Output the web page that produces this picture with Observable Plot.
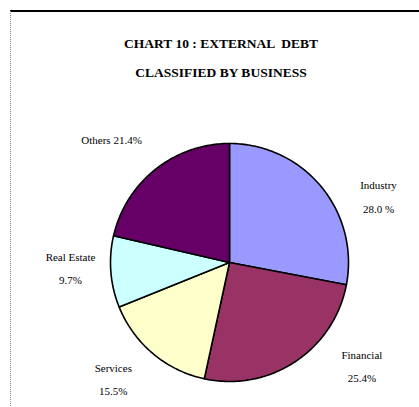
<!DOCTYPE html>
<html><head><meta charset="utf-8">
<script src="https://cdn.jsdelivr.net/npm/d3@7"></script>
<script src="https://cdn.jsdelivr.net/npm/@observablehq/plot@0.6"></script>
<style>
html,body{margin:0;padding:0;background:#fff;}
#wrap{position:relative;width:419px;height:407px;overflow:hidden;}
#chart svg{display:block;}
#border{position:absolute;left:10px;top:10px;right:-5px;bottom:-5px;border-top:2px solid #000;border-left:1px dotted #888;pointer-events:none;}
</style></head><body><div id="wrap"><div id="chart"></div><div id="border"></div></div>
<script>
// ---- data ----
const categories = ["Industry", "Financial", "Services", "Real Estate", "Others"];
const shares = [28.0, 25.4, 15.5, 9.7, 21.4];
const shareLabels = ["28.0 %", "25.4%", "15.5%", "9.7%", "21.4%"];
const sliceColors = ["#9999FF", "#993366", "#FFFFCC", "#CCFFFF", "#660066"];
const titleLines = ["CHART 10 : EXTERNAL  DEBT", "CLASSIFIED BY BUSINESS"];

// ---- layout ----
const W = 419, H = 407, cx = 229, cy = 262, R = 119;
const labelNudgeDeg = [16, -18.2, 4.5, 2.2, -5.5];
const labelRadius = [1.366, 1.418, 1.39, 1.337, 1.426];
const singleLine = [false, false, false, false, true];
const font = "'Liberation Serif','Times New Roman',serif";

const arcs = d3.pie().sort(null).value(d => d)(shares);
const slicePts = [];
arcs.forEach((a, i) => {
  slicePts.push({name: categories[i], x: 0, y: 0});
  const n = Math.max(2, Math.ceil((a.endAngle - a.startAngle) / (Math.PI / 180)));
  for (let k = 0; k <= n; k++) {
    const t = a.startAngle + (a.endAngle - a.startAngle) * k / n;
    slicePts.push({name: categories[i], x: Math.sin(t), y: Math.cos(t)});
  }
});
const labels = arcs.map((a, i) => {
  const mid = (a.startAngle + a.endAngle) / 2 + labelNudgeDeg[i] * Math.PI / 180;
  return {
    x: Math.sin(mid) * labelRadius[i],
    y: Math.cos(mid) * labelRadius[i],
    text: singleLine[i] ? `${categories[i]} ${shareLabels[i]}` : `${categories[i]}\n${shareLabels[i]}`
  };
});

const chart = Plot.plot({
  width: W, height: H,
  margin: 0,
  x: {domain: [-cx / R, (W - cx) / R], range: [0, W], axis: null},
  y: {domain: [-(H - cy) / R, cy / R], range: [H, 0], axis: null},
  color: {domain: categories, range: sliceColors},
  style: {fontFamily: font, background: "#fff"},
  marks: [
    Plot.line(slicePts, {x: "x", y: "y", z: "name", fill: "name", stroke: "#000", strokeWidth: 1.6, curve: "linear-closed", strokeLinejoin: "round"}),
    Plot.text(labels, {x: "x", y: "y", dy: -4, text: "text", fontSize: 11, lineHeight: 23.5 / 11, textAnchor: "middle", lineAnchor: "middle", fill: "#000", fontFamily: font, ariaLabel: "labels"}),
    Plot.text([titleLines.join("\n")], {frameAnchor: "top", dx: 11, dy: 52.5, text: d => d, fontSize: 13.5, fontWeight: "bold", lineHeight: 29 / 13.5, lineAnchor: "middle", textAnchor: "middle", fill: "#000", fontFamily: font, ariaLabel: "title"})
  ]
});
d3.select(chart).selectAll('g[aria-label="title"] text').style("letter-spacing", "1.2px");
d3.select(chart).selectAll('g[aria-label="labels"] text').style("letter-spacing", "0.4px");
document.getElementById("chart").appendChild(chart);
</script></body></html>
